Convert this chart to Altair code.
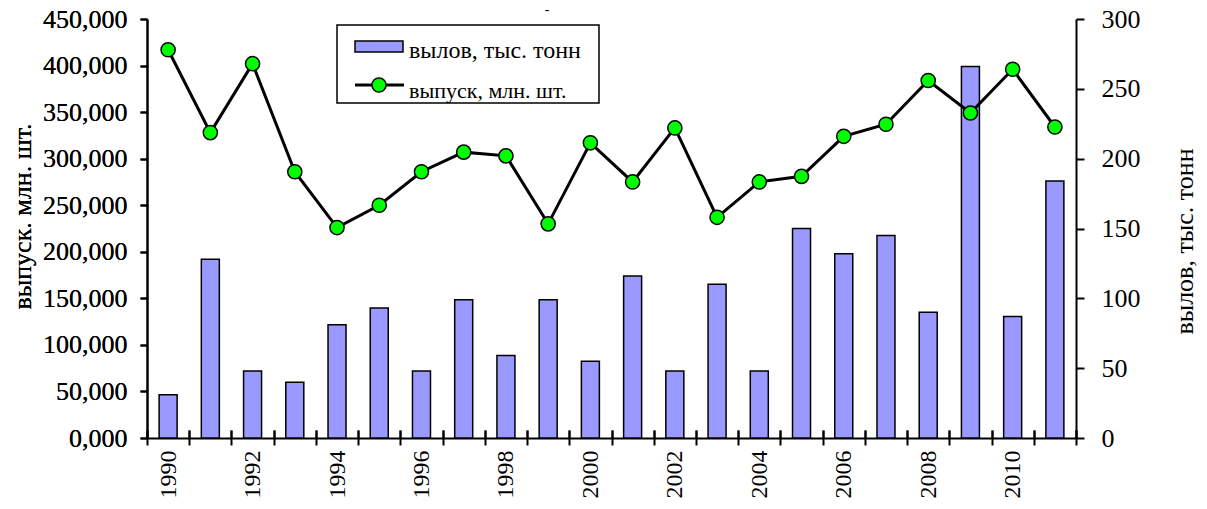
import altair as alt
import pandas as pd

years = list(range(1990, 2012))
release = [417, 328, 402, 286, 226, 250, 286, 307, 303, 230, 317, 275,
           333, 237, 275, 281, 324, 337, 384, 349, 396, 334]
catch = [31, 128, 48, 40, 81, 93, 48, 99, 59, 99, 55, 116,
         48, 110, 48, 150, 132, 145, 90, 266, 87, 184]
left_ticks = list(range(0, 451, 50))
right_ticks = list(range(0, 301, 50))
legend_labels = ["вылов, тыс. тонн", "выпуск, млн. шт."]

df = pd.DataFrame({"year": years, "release": release, "catch": catch})
one = pd.DataFrame({"k": [0]})

FONT = "Liberation Serif"
W, H = 929, 419

xscale = alt.Scale(paddingInner=0, paddingOuter=0)

bars = alt.Chart(df).mark_bar(size=18, fill="#9999FF", stroke="black", strokeWidth=1.5).encode(
    x=alt.X("year:O", scale=xscale, axis=alt.Axis(
        orient="bottom", title=None, labelAngle=-90, tickBand="extent",
        labelExpr="toNumber(datum.value) % 2 == 0 ? datum.label : ''",
        labelFontSize=24, tickSize=7, labelPadding=5, domainWidth=2, tickWidth=2)),
    y=alt.Y("catch:Q", scale=alt.Scale(domain=[0, 300], nice=False), axis=alt.Axis(
        orient="right", values=right_ticks, format="d", title="вылов, тыс. тонн",
        titleAngle=270, titleX=108, titleY=222, titleAlign="center", titleBaseline="middle",
        labelFontSize=26, tickSize=8, labelPadding=17, domainWidth=2, tickWidth=2)),
)

base_line = alt.Chart(df).encode(
    x=alt.X("year:O", scale=xscale, axis=alt.Axis(
        orient="top", offset=-H, title=None, labels=False, domain=False,
        tickBand="extent", tickSize=8, tickWidth=2)),
    y=alt.Y("release:Q", scale=alt.Scale(domain=[0, 450], nice=False), axis=alt.Axis(
        orient="left", values=left_ticks, title="выпуск. млн. шт.",
        labelExpr="replace(format(datum.value, '.3f'), '.', ',')",
        titleAngle=270, titleX=-125, titleY=197, titleAlign="center", titleBaseline="middle",
        labelFontSize=26, tickSize=7, labelPadding=13, domainWidth=2, tickWidth=2)),
)
line = base_line.mark_line(color="black", strokeWidth=3)
points = base_line.mark_point(filled=True, fill="#00FF00", stroke="black", strokeWidth=1.5,
                              size=200, opacity=1, shape="circle")

legend_box = alt.Chart(one).mark_rect(fill="white", stroke="black", strokeWidth=1.5).encode(
    x=alt.value(190), x2=alt.value(452), y=alt.value(6), y2=alt.value(84))
legend_rect = alt.Chart(one).mark_rect(fill="#9999FF", stroke="black", strokeWidth=1.5).encode(
    x=alt.value(208), x2=alt.value(256), y=alt.value(22), y2=alt.value(33))
legend_rule = alt.Chart(one).mark_rule(color="black", strokeWidth=3).encode(
    x=alt.value(208), x2=alt.value(257), y=alt.value(66))
legend_pt = alt.Chart(one).mark_point(filled=True, fill="#00FF00", stroke="black", strokeWidth=1.5,
                                      size=200, opacity=1, shape="circle").encode(
    x=alt.value(232), y=alt.value(66))
legend_t1 = alt.Chart(one).mark_text(align="left", baseline="alphabetic", font=FONT, fontSize=24,
                                     color="black").encode(
    x=alt.value(262), y=alt.value(39), text=alt.value(legend_labels[0]))
legend_t2 = alt.Chart(one).mark_text(align="left", baseline="alphabetic", font=FONT, fontSize=22,
                                     color="black").encode(
    x=alt.value(262), y=alt.value(79), text=alt.value(legend_labels[1]))
dash = alt.Chart(one).mark_text(font=FONT, fontSize=14, color="black").encode(
    x=alt.value(400), y=alt.value(-9), text=alt.value("-"))

chart = alt.layer(
    bars, line, points, legend_box, legend_rect, legend_rule, legend_pt, legend_t1, legend_t2, dash
).resolve_scale(y="independent").resolve_axis(x="independent", y="independent").properties(
    width=W, height=H,
    autosize=alt.AutoSizeParams(type="none"),
    padding={"left": 139, "top": 11, "right": 122, "bottom": 60},
).configure_axis(
    labelFont=FONT, titleFont=FONT, labelColor="black", titleColor="black",
    domainColor="black", tickColor="black", grid=False, titleFontSize=26, titleFontWeight="normal",
).configure_view(strokeWidth=0)

chart.save("out.html", embed_options={"renderer": "svg", "actions": False})
